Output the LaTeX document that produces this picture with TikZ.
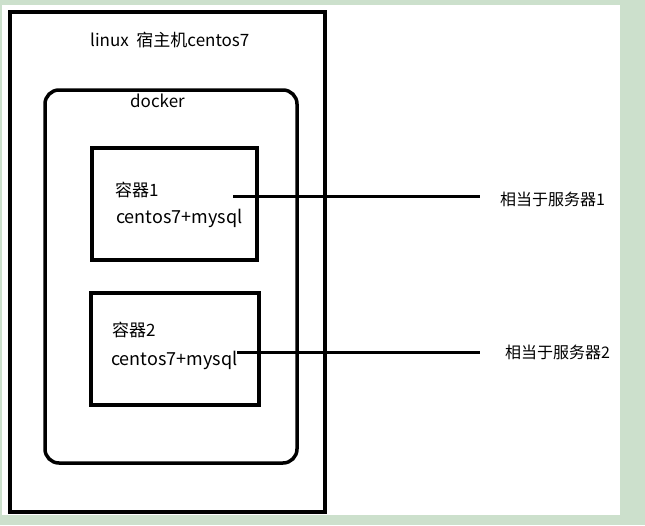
\documentclass[tikz,border=0pt]{standalone}
\usepackage{fontspec}
\setmainfont{Noto Sans CJK SC}
\begin{document}
\begin{tikzpicture}[x=1pt,y=-1pt,
  box/.style={draw,line width=3.5pt},
  lbl/.style={anchor=west,font=\fontsize{17}{19}\selectfont,inner sep=0pt},
  link/.style={line width=3pt}]
\fill[green!40!black!20] (0,0) rectangle (645,525);
\fill[white] (2,5) rectangle (620,515);
\useasboundingbox (0,0) rectangle (645,525);
\draw[box] (10,12) rectangle (325,512);
\node[lbl] (host) at (90,40) {linux\ \ 宿主机centos7};
\draw[box,rounded corners=14pt] (45,90) rectangle (297,463);
\node[lbl] (dock) at (130,101) {docker};
\draw[box] (92,148) rectangle (257,260);
\node[lbl] (c1) at (115,190) {容器1};
\node[lbl,font=\fontsize{18}{20}\selectfont] (m1) at (116,218) {centos7+mysql};
\draw[box] (91,293) rectangle (259,405);
\node[lbl] (c2) at (112,330) {容器2};
\node[lbl,font=\fontsize{18}{20}\selectfont] (m2) at (111,360) {centos7+mysql};
\coordinate (a1) at (233,196);
\coordinate (a2) at (237,352);
\node[lbl,font=\fontsize{16}{18}\selectfont] (s1) at (500,199) {相当于服务器1};
\node[lbl,font=\fontsize{16}{18}\selectfont] (s2) at (505,352) {相当于服务器2};
\draw[link] (a1) -- (480,196);
\draw[link] (a2) -- (480,352);
\end{tikzpicture}
\end{document}
